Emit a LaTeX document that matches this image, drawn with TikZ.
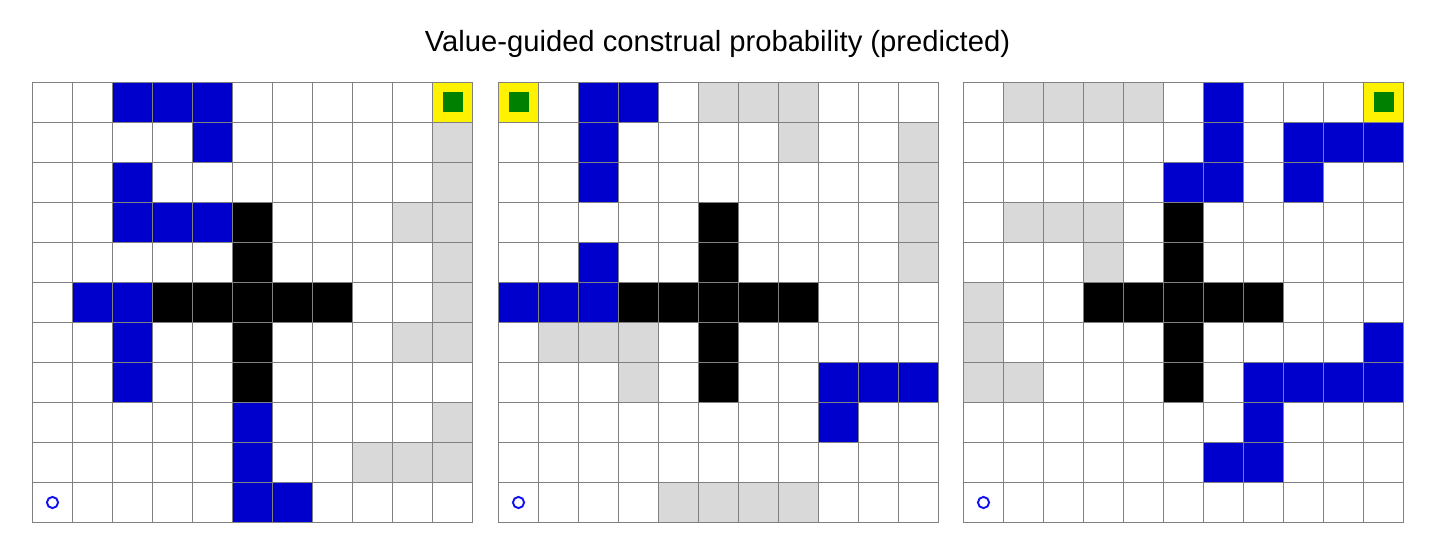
\documentclass[tikz,border=0pt]{standalone}
\usepackage{fontspec}
\setmainfont{Liberation Sans}
\usetikzlibrary{matrix}
\definecolor{cellblue}{HTML}{0000CC}
\definecolor{cellgray}{HTML}{D9D9D9}
\definecolor{goalgreen}{HTML}{008000}
\definecolor{startblue}{HTML}{1010F0}

\begin{document}
\begin{tikzpicture}[x=1bp, y=1bp, line width=1bp,
        maze/.style={matrix of nodes, anchor=north west, inner sep=0, outer sep=0,
            nodes={minimum height=40bp, minimum width=40bp, inner sep=0, outer sep=0, anchor=center, draw=black!50},
            row sep=-\pgflinewidth, column sep=-\pgflinewidth, nodes in empty cells},
        bl/.style={fill=cellblue},
        gr/.style={fill=cellgray},
        wl/.style={fill=black},
        gl/.style={fill=yellow, path picture={\fill[goalgreen] ([shift={(-10bp,-10bp)}]path picture bounding box.center) rectangle ++(20bp,20bp);}},
        st/.style={path picture={\draw[startblue, line width=1.9bp] (path picture bounding box.center) circle (5.6bp);}}
    ]
    \useasboundingbox (0,0) rectangle (1435,554);
    \node[font=\fontsize{29.3}{35}\selectfont, anchor=base] (title) at (717.5,502) {Value-guided construal probability (predicted)};
    \matrix (M1) [maze] at (32,472)
    {
        & & |[bl]| & |[bl]| & |[bl]| & & & & & & |[gl]| \\
        & & & & |[bl]| & & & & & & |[gr]| \\
        & & |[bl]| & & & & & & & & |[gr]| \\
        & & |[bl]| & |[bl]| & |[bl]| & |[wl]| & & & & |[gr]| & |[gr]| \\
        & & & & & |[wl]| & & & & & |[gr]| \\
        & |[bl]| & |[bl]| & |[wl]| & |[wl]| & |[wl]| & |[wl]| & |[wl]| & & & |[gr]| \\
        & & |[bl]| & & & |[wl]| & & & & |[gr]| & |[gr]| \\
        & & |[bl]| & & & |[wl]| & & & & & \\
        & & & & & |[bl]| & & & & & |[gr]| \\
        & & & & & |[bl]| & & & |[gr]| & |[gr]| & |[gr]| \\
        |[st]| & & & & & |[bl]| & |[bl]| & & & & \\
    };
    \matrix (M2) [maze] at (498,472)
    {
        |[gl]| & & |[bl]| & |[bl]| & & |[gr]| & |[gr]| & |[gr]| & & & \\
        & & |[bl]| & & & & & |[gr]| & & & |[gr]| \\
        & & |[bl]| & & & & & & & & |[gr]| \\
        & & & & & |[wl]| & & & & & |[gr]| \\
        & & |[bl]| & & & |[wl]| & & & & & |[gr]| \\
        |[bl]| & |[bl]| & |[bl]| & |[wl]| & |[wl]| & |[wl]| & |[wl]| & |[wl]| & & & \\
        & |[gr]| & |[gr]| & |[gr]| & & |[wl]| & & & & & \\
        & & & |[gr]| & & |[wl]| & & & |[bl]| & |[bl]| & |[bl]| \\
        & & & & & & & & |[bl]| & & \\
        & & & & & & & & & & \\
        |[st]| & & & & |[gr]| & |[gr]| & |[gr]| & |[gr]| & & & \\
    };
    \matrix (M3) [maze] at (963,472)
    {
        & |[gr]| & |[gr]| & |[gr]| & |[gr]| & & |[bl]| & & & & |[gl]| \\
        & & & & & & |[bl]| & & |[bl]| & |[bl]| & |[bl]| \\
        & & & & & |[bl]| & |[bl]| & & |[bl]| & & \\
        & |[gr]| & |[gr]| & |[gr]| & & |[wl]| & & & & & \\
        & & & |[gr]| & & |[wl]| & & & & & \\
        |[gr]| & & & |[wl]| & |[wl]| & |[wl]| & |[wl]| & |[wl]| & & & \\
        |[gr]| & & & & & |[wl]| & & & & & |[bl]| \\
        |[gr]| & |[gr]| & & & & |[wl]| & & |[bl]| & |[bl]| & |[bl]| & |[bl]| \\
        & & & & & & & |[bl]| & & & \\
        & & & & & & |[bl]| & |[bl]| & & & \\
        |[st]| & & & & & & & & & & \\
    };
\end{tikzpicture}
\end{document}
